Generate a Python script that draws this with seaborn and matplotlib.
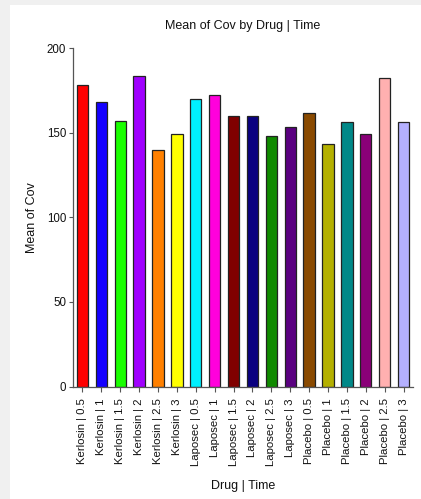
import matplotlib
matplotlib.use("Agg")
import matplotlib.pyplot as plt
import seaborn as sns
import pandas as pd

drugs = ["Kerlosin"] * 6 + ["Laposec"] * 6 + ["Placebo"] * 6
times = ["0.5", "1", "1.5", "2", "2.5", "3"] * 3
mean_cov = [178.3, 168.4, 156.8, 183.6, 140.0, 149.5,
            170.0, 172.6, 160.1, 159.9, 148.0, 153.6,
            161.9, 143.6, 156.2, 149.5, 182.6, 156.4]
bar_colors = ["#FF0000", "#1400FF", "#1AFF00", "#A000FF", "#FF8000", "#FFFF00",
              "#00F0FF", "#FF00DC", "#800000", "#0A0080", "#108A00", "#5A0080",
              "#8A4A00", "#B4B000", "#008888", "#8A0078", "#FFB0B0", "#B4B0FF"]

labels = [f"{d} | {t}" for d, t in zip(drugs, times)]
df = pd.DataFrame({"Drug | Time": labels, "Mean of Cov": mean_cov})

sns.set_style("white")
plt.rcParams["font.family"] = ["Liberation Sans", "DejaVu Sans"]

fig = plt.figure(figsize=(4.21, 4.99), dpi=100, facecolor="#F0F0F0")
# white panel behind the chart
fig.patches.append(plt.Rectangle((10 / 421, 0), 1, 1 - 5 / 499,
                                 transform=fig.transFigure, facecolor="white",
                                 edgecolor="none", zorder=-10))
ax = fig.add_axes([73 / 421, 1 - 386.5 / 499, 340 / 421, (386.5 - 48.3) / 499])
ax.set_zorder(5)
ax.patch.set_alpha(0)

sns.barplot(data=df, x="Drug | Time", y="Mean of Cov", hue="Drug | Time",
            order=labels, hue_order=labels, palette=bar_colors, legend=False,
            width=0.6, edgecolor="#222222", linewidth=0.9, saturation=1,
            errorbar=None, ax=ax)

ax.set_xlim(-0.5, len(labels) - 0.5)
ax.set_ylim(0, 200)
ax.set_yticks([0, 50, 100, 150, 200])
ax.tick_params(axis="x", labelrotation=90, labelsize=8.2, length=3.5, width=0.8,
               color="#555555", labelcolor="#111111", pad=5, bottom=True)
ax.tick_params(axis="y", labelsize=8.3, length=3, width=0.8, color="#555555",
               labelcolor="#111111", pad=2, left=True)
for side in ("top", "right"):
    ax.spines[side].set_visible(False)
for side in ("left", "bottom"):
    ax.spines[side].set_color("#555555")
    ax.spines[side].set_linewidth(0.9)

ax.set_xlabel("Drug | Time", fontsize=9, color="#111111", labelpad=10)
ax.set_ylabel("Mean of Cov", fontsize=9, color="#111111", labelpad=6)
ax.set_title("Mean of Cov by Drug | Time", fontsize=9, color="#111111", pad=14)

fig.savefig("out.png", dpi=100, facecolor=fig.get_facecolor())
